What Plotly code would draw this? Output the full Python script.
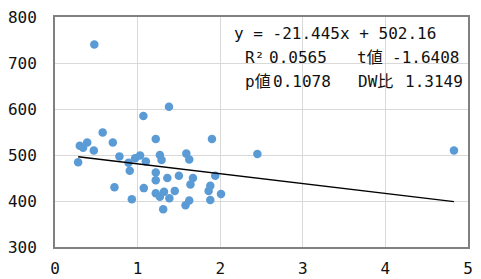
import plotly.graph_objects as go

x_vals = [0.476, 1.07, 1.38, 0.577, 0.30, 0.39, 0.34, 0.47, 0.70, 0.28,
          0.78, 0.89, 0.905, 0.97, 1.03, 1.10, 0.72, 0.93, 1.075, 1.22,
          1.90, 1.27, 1.29, 1.59, 1.625, 2.45, 1.22, 1.22, 1.36, 1.50,
          1.67, 1.64, 1.94, 1.88, 1.86, 1.22, 1.27, 1.32, 1.385, 1.45,
          1.625, 1.58, 1.88, 2.01, 1.31, 4.83]
y_vals = [740, 585, 605, 549, 520, 527, 516, 510, 527, 484,
          497, 483, 466, 493, 499, 486, 430, 404, 428, 535,
          535, 500, 489, 503, 490, 502, 462, 445, 450, 455,
          450, 436, 455, 433, 422, 417, 409, 420, 406, 422,
          401, 391, 402, 415, 382, 510]

slope = -21.445
intercept = 502.16

x_ticks = [0, 1, 2, 3, 4, 5]
y_ticks = [300, 400, 500, 600, 700, 800]

stat_lines = [
    ("y = -21.445x + 502.16", 234, 33),
    ("R²", 245, 57),
    ("0.0565", 269, 57),
    ("t値", 357, 57),
    ("-1.6408", 392, 57),
    ("p値", 245, 82),
    ("0.1078", 273, 82),
    ("DW比", 358, 82),
    ("1.3149", 405, 82),
]

W, H = 481, 279
ML, MR, MT, MB = 55, 13, 17, 32
PW, PH = W - ML - MR, H - MT - MB

FONT = "DejaVu Sans Mono, Noto Sans CJK JP, monospace"

x_line = [min(x_vals), max(x_vals)]
y_line = [slope * v + intercept for v in x_line]

fig = go.Figure()
fig.add_trace(go.Scatter(
    x=x_vals, y=y_vals, mode="markers",
    marker=dict(color="#5B9BD5", size=8.5, line=dict(width=0)),
    showlegend=False, hoverinfo="skip"))
fig.add_trace(go.Scatter(
    x=x_line, y=y_line, mode="lines",
    line=dict(color="black", width=1.4),
    showlegend=False, hoverinfo="skip"))

annotations = []
for text, px, py in stat_lines:
    annotations.append(dict(
        text=text, xref="paper", yref="paper",
        x=(px - ML) / PW, y=1 - (py - MT) / PH,
        xanchor="left", yanchor="middle", showarrow=False,
        borderpad=0, borderwidth=0,
        font=dict(family=FONT, size=16, color="#111")))

fig.update_layout(
    width=W, height=H,
    margin=dict(l=ML, r=MR, t=MT, b=MB, pad=0, autoexpand=False),
    paper_bgcolor="white", plot_bgcolor="white",
    font=dict(family=FONT, size=16, color="#111"),
    annotations=annotations,
    xaxis=dict(range=[0, 5], tickvals=x_ticks, showgrid=True,
               gridcolor="#d9d9d9", gridwidth=1, automargin=False,
               showline=True, linecolor="#808080", linewidth=2, mirror=True,
               zeroline=False, ticks="", ticklabelstandoff=6,
               tickfont=dict(family=FONT, size=16, color="#111")),
    yaxis=dict(range=[300, 800], tickvals=y_ticks, showgrid=True,
               gridcolor="#d9d9d9", gridwidth=1, automargin=False,
               showline=True, linecolor="#808080", linewidth=2, mirror=True,
               zeroline=False, ticks="", ticklabelstandoff=13,
               tickfont=dict(family=FONT, size=16, color="#111")),
)

fig.write_html(
    "out.html",
    config={"displayModeBar": False},
    post_script="document.body.style.margin='0px';document.body.style.overflow='hidden';",
)
